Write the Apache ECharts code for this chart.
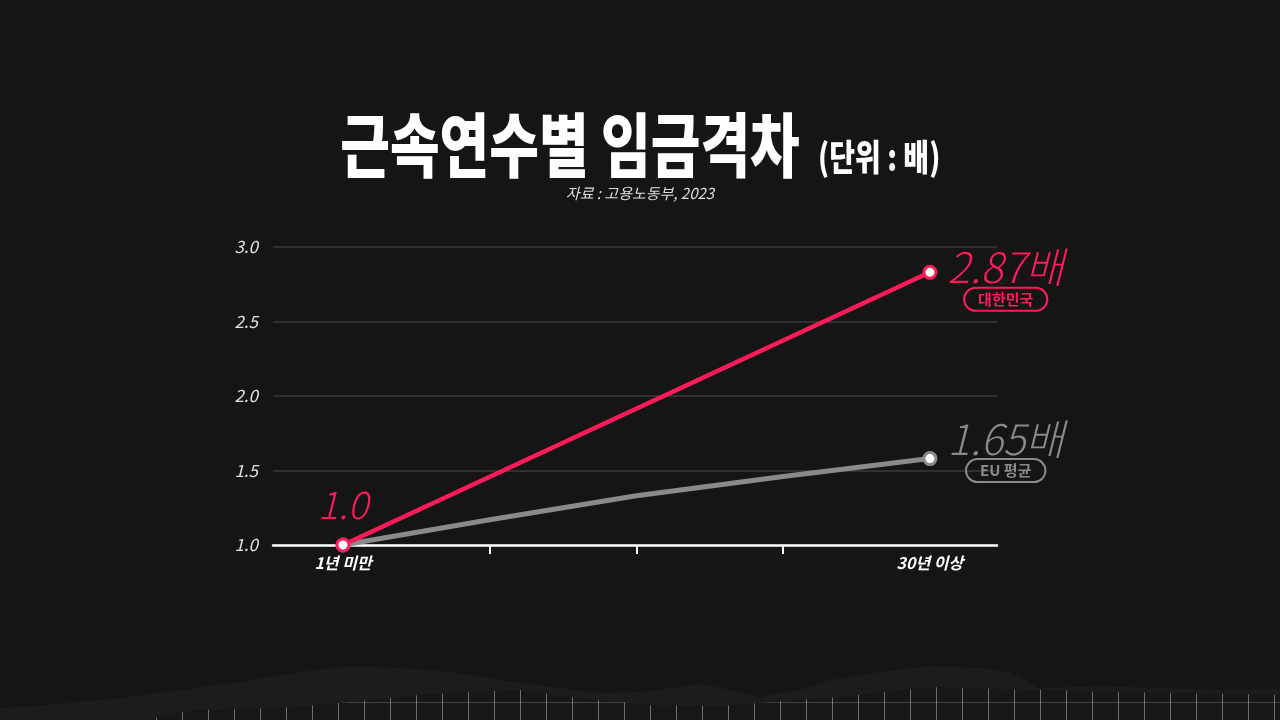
<!DOCTYPE html>
<html><head><meta charset="utf-8">
<script src="https://cdn.jsdelivr.net/npm/echarts@6/dist/echarts.min.js"></script>
<style>html,body{margin:0;padding:0;background:#151515;}#c{width:1280px;height:720px;}</style>
</head><body><div id="c"></div>
<script>
// ---- data ----
const categories = ['1년 미만', '', '', '', '30년 이상'];
const koreaValues = [1.0, null, null, null, 2.83];
const euValues = [1.0, 1.17, 1.33, 1.46, 1.58];
const startLabel = '1.0';
const koreaEndLabel = '2.87배';
const koreaName = '대한민국';
const euEndLabel = '1.65배';
const euName = 'EU 평균';
const yMin = 1.0, yMax = 3.0, yStep = 0.5;
const titleMain = '근속연수별 임금격차';
const titleUnit = '(단위 : 배)';
const sourceText = '자료 : 고용노동부, 2023';

const RED = '#ff1a5a';
const GRAY = '#8a8a8a';
const FONT = '"Noto Sans CJK KR", "Noto Sans", sans-serif';

// grid-paper pattern for the torn paper at the bottom
const pc = document.createElement('canvas');
pc.width = 26; pc.height = 26;
const pctx = pc.getContext('2d');
pctx.fillStyle = '#171717'; pctx.fillRect(0, 0, 26, 26);
pctx.strokeStyle = 'rgba(200,200,200,0.5)'; pctx.lineWidth = 1;
pctx.beginPath(); pctx.moveTo(0.5, 0); pctx.lineTo(0.5, 26); pctx.stroke();
pctx.strokeStyle = 'rgba(200,200,200,0.25)';
pctx.beginPath(); pctx.moveTo(0, 0.5); pctx.lineTo(26, 0.5); pctx.stroke();

const lastIdx = categories.length - 1;
function endLabel(big, name, color, dy) {
  return {
    show: true, position: 'right', distance: 10, offset: [0, dy],
    formatter: '{v|' + big + '}\n{b|' + name + '}',
    rich: {
      v: { fontFamily: FONT, fontSize: 42, fontStyle: 'italic', fontWeight: 300, color: color, lineHeight: 44, align: 'left' },
      b: { fontFamily: FONT, fontSize: 15, fontWeight: 'bold', color: color, borderColor: color, borderWidth: 2,
           borderRadius: 14, padding: [4, 14], align: 'center', lineHeight: 20 }
    }
  };
}

const koreaData = [];
koreaValues.forEach((v, i) => {
  if (v == null) return;
  const item = { value: [i, v] };
  if (i === 0) item.label = { show: true, position: 'top', distance: 14, formatter: startLabel,
    fontFamily: FONT, fontSize: 38, fontStyle: 'italic', fontWeight: 300, color: RED };
  if (i === lastIdx) item.label = endLabel(koreaEndLabel, koreaName, RED, 5);
  koreaData.push(item);
});
const euData = euValues.map((v, i) => {
  const item = { value: [i, v] };
  if (i !== 0 && i !== lastIdx) item.symbol = 'none';
  if (i === lastIdx) item.label = endLabel(euEndLabel, euName, GRAY, -10);
  return item;
});

const chart = echarts.init(document.getElementById('c'), null, { renderer: 'canvas' });
chart.setOption({
  backgroundColor: '#151515',
  animation: false,
  graphic: [
    { type: 'text', x: 570, y: 145, scaleY: 1.3, z: 10,
      style: { text: titleMain, fill: '#fff', font: '900 54px ' + FONT, textAlign: 'center', textVerticalAlign: 'middle' } },
    { type: 'text', x: 818, y: 157, scaleY: 1.3, z: 10,
      style: { text: titleUnit, fill: '#fff', font: '900 28px ' + FONT, textAlign: 'left', textVerticalAlign: 'middle' } },
    { type: 'text', x: 640, y: 193, z: 10,
      style: { text: sourceText, fill: '#dddddd', font: 'italic 400 15px ' + FONT, textAlign: 'center', textVerticalAlign: 'middle' } },
    { type: 'polygon', z: 1, silent: true,
      shape: { points: [[0,708],[60,704],[120,698],[180,690],[240,682],[300,672],[350,666],[400,668],[450,672],[500,680],[560,688],[600,693],[640,692],[700,684],[730,690],[760,697],[800,690],[830,680],[880,672],[930,666],[980,668],[1010,672],[1040,688],[1100,686],[1160,688],[1220,690],[1280,688],[1280,720],[0,720]] },
      style: { fill: '#1c1c1c' } },
    { type: 'polygon', z: 2, silent: true,
      shape: { points: [[150,720],[165,714],[200,710],[280,708],[350,702],[420,695],[470,692],[520,690],[560,696],[600,700],[650,705],[720,706],[760,703],[800,700],[850,696],[900,690],[940,687],[1000,689],[1050,690],[1100,692],[1180,693],[1280,695],[1280,720]] },
      style: { fill: { image: pc, repeat: 'repeat' } } }
  ],
  grid: { left: 273, right: 283, top: 247, bottom: 175, containLabel: false },
  xAxis: {
    type: 'value', min: -0.477, max: 4.457,
    splitLine: { show: false },
    axisLine: { show: true, lineStyle: { color: '#ffffff', width: 2.5 } },
    axisTick: { show: true, customValues: [1, 2, 3], length: 9, lineStyle: { color: '#ffffff', width: 2 } },
    axisLabel: { show: true, customValues: [0, lastIdx], formatter: v => categories[Math.round(v)],
      color: '#ffffff', fontFamily: FONT, fontSize: 16, fontWeight: 'bold', fontStyle: 'italic', margin: 10 }
  },
  yAxis: {
    type: 'value', min: yMin, max: yMax, interval: yStep,
    axisLine: { show: false }, axisTick: { show: false },
    splitLine: { show: true, lineStyle: { color: '#3a3a3a', width: 1.5 } },
    axisLabel: { color: '#e0e0e0', fontFamily: FONT, fontSize: 17, fontStyle: 'italic', margin: 15,
      formatter: v => v.toFixed(1) }
  },
  series: [
    { name: 'EU 평균', type: 'line', data: euData, z: 3,
      lineStyle: { color: GRAY, width: 5 }, symbol: 'circle', symbolSize: 12,
      itemStyle: { color: '#ffffff', borderColor: GRAY, borderWidth: 3 } },
    { name: '대한민국', type: 'line', data: koreaData, z: 4, connectNulls: true,
      lineStyle: { color: RED, width: 4.5 }, symbol: 'circle', symbolSize: 12,
      itemStyle: { color: '#ffffff', borderColor: RED, borderWidth: 3 } }
  ]
});
</script></body></html>
